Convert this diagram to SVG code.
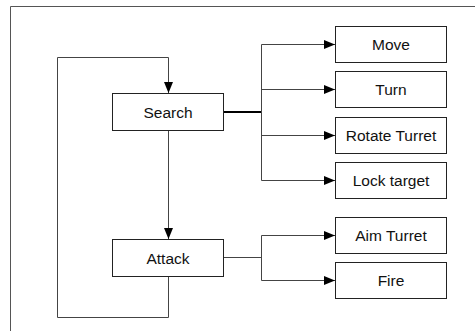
<svg xmlns="http://www.w3.org/2000/svg" width="475" height="331" viewBox="0 0 475 331">
<style>
.box{fill:#fff;stroke:#222;stroke-width:1}
.lbl{font-family:"Liberation Sans",Arial,sans-serif;font-size:15.5px;fill:#111;text-anchor:middle}
.c{fill:none;stroke:#444;stroke-width:1}
.frame{fill:none;stroke:#555;stroke-width:1}
</style>
<defs>
<marker id="ah" markerUnits="userSpaceOnUse" markerWidth="12" markerHeight="10" refX="11" refY="4.5" orient="auto">
<path d="M0,0 L11,4.5 L0,9 z" fill="#000"/>
</marker>
</defs>
<rect width="475" height="331" fill="#fff"/>
<path class="frame" d="M10.5,331 V6.5 H475"/>
<g id="connectors">
<path class="c" d="M168.5,276 V317.5 H57.5 V57.5 H168.5 V93" marker-end="url(#ah)"/>
<path class="c" d="M168.5,130 V239" marker-end="url(#ah)"/>
<path d="M224,112 H262" stroke="#000" stroke-width="2" fill="none"/>
<path class="c" d="M261.5,44.5 V180.5"/>
<path class="c" d="M261.5,44.5 H335" marker-end="url(#ah)"/>
<path class="c" d="M261.5,89.5 H335" marker-end="url(#ah)"/>
<path class="c" d="M261.5,135.5 H335" marker-end="url(#ah)"/>
<path class="c" d="M261.5,180.5 H335" marker-end="url(#ah)"/>
<path class="c" d="M224,257.5 H261.5 M261.5,235.5 V280.5"/>
<path class="c" d="M261.5,235.5 H335" marker-end="url(#ah)"/>
<path class="c" d="M261.5,280.5 H335" marker-end="url(#ah)"/>
</g>
<g id="search"><rect class="box" x="112.5" y="93.5" width="111" height="37"/><text class="lbl" x="168" y="117.5">Search</text></g>
<g id="attack"><rect class="box" x="112.5" y="239.5" width="111" height="37"/><text class="lbl" x="168" y="263.5">Attack</text></g>
<g id="move"><rect class="box" x="335.5" y="26.5" width="111" height="36"/><text class="lbl" x="391" y="50">Move</text></g>
<g id="turn"><rect class="box" x="335.5" y="71.5" width="111" height="36"/><text class="lbl" x="391" y="95">Turn</text></g>
<g id="rotate"><rect class="box" x="335.5" y="117.5" width="111" height="36"/><text class="lbl" x="391" y="141">Rotate Turret</text></g>
<g id="lock"><rect class="box" x="335.5" y="162.5" width="111" height="36"/><text class="lbl" x="391" y="186">Lock target</text></g>
<g id="aim"><rect class="box" x="335.5" y="217.5" width="111" height="36"/><text class="lbl" x="391" y="241">Aim Turret</text></g>
<g id="fire"><rect class="box" x="335.5" y="262.5" width="111" height="36"/><text class="lbl" x="391" y="286">Fire</text></g>
</svg>
